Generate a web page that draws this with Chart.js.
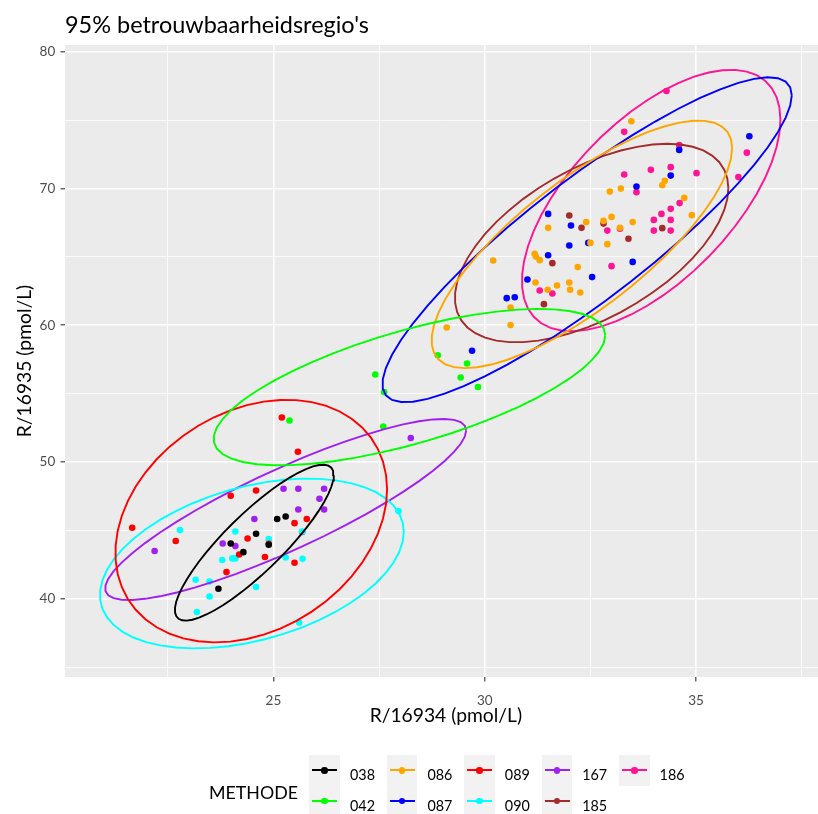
<!DOCTYPE html>
<html><head><meta charset="utf-8">
<script src="https://cdn.jsdelivr.net/npm/chart.js@4.4.1/dist/chart.umd.min.js"></script>
<style>
html,body{margin:0;padding:0;overflow:hidden;background:#fff;width:818px;height:814px;}
#wrap{position:relative;width:830px;height:814px;}
#c{position:absolute;left:0;top:0;}
.txt{position:absolute;white-space:nowrap;font-family:Lato, sans-serif;color:#000;}
.key{position:absolute;background:#F2F2F2;}
.kline{position:absolute;}
.kdot{position:absolute;border-radius:50%;}
</style></head>
<body><div id="wrap"><canvas id="c" width="830" height="814"></canvas><div id="title" class="txt"></div><div id="legend"></div></div>
<script>
const titleText = "95% betrouwbaarheidsregio's";
const xTitle = "R/16934 (pmol/L)";
const yTitle = "R/16935 (pmol/L)";
const legendTitle = "METHODE";
const methods = ['038','042','086','087','089','090','167','185','186'];
const colors = ['#000000','#00FF00','#FFA500','#0000FF','#FF0000','#00FFFF','#A020F0','#A52A2A','#FF1493'];
const xMajor = [25,30,35];
const xMinor = [22.5,27.5,32.5,37.5];
const yMajor = [40,50,60,70,80];
const yMinor = [35,45,55,65,75];

const x_038 = [25.09,25.29,24.59,23.99,24.29,24.89,23.70];
const y_038 = [45.83,46.02,44.75,44.04,43.41,43.95,40.73];
const x_042 = [25.38,27.60,27.62,27.41,28.89,29.58,29.43,29.84];
const y_042 = [53.03,52.60,55.11,56.40,57.81,57.20,56.18,55.48];
const x_086 = [33.47,32.96,33.22,34.20,34.26,34.72,34.90,31.50,32.40,32.81,33.00,33.20,33.50,32.50,32.90,31.18,31.21,31.30,30.20,32.20,31.20,31.71,32.00,31.49,32.02,32.26,30.61,30.61,29.10];
const y_086 = [74.92,69.77,69.99,70.24,70.56,69.31,68.05,67.12,67.54,67.63,67.92,67.12,67.54,66.02,65.93,65.22,65.02,64.76,64.73,64.25,63.12,62.90,63.12,62.59,62.59,62.39,61.29,60.01,59.83];
const x_087 = [29.70,30.52,30.71,31.01,31.50,31.50,32.04,32.00,32.45,32.54,33.50,33.59,34.40,34.60,36.26];
const y_087 = [58.13,61.98,62.05,63.34,65.12,68.14,67.29,65.83,66.02,63.52,64.63,70.14,70.94,72.82,73.82];
const x_089 = [25.20,25.58,21.66,22.69,23.99,24.59,25.50,25.79,24.39,24.89,24.19,24.80,25.50,23.89];
const y_089 = [53.25,50.75,45.19,44.22,47.53,47.92,45.53,45.83,44.41,44.02,43.24,43.05,42.63,41.95];
const x_090 = [22.79,24.10,24.89,25.68,23.79,24.03,24.10,25.29,25.69,23.16,23.49,24.59,23.49,23.19,25.61,27.96];
const y_090 = [45.02,44.92,44.36,44.92,42.83,42.95,42.95,43.02,42.92,41.39,41.26,40.86,40.17,39.03,38.27,46.41];
const x_167 = [25.24,25.59,26.20,26.09,25.59,26.20,24.55,25.68,23.80,24.10,22.19,28.25];
const y_167 = [48.04,48.04,48.04,47.31,46.53,46.53,45.83,44.88,44.04,43.85,43.49,51.75];
const x_185 = [32.00,32.81,32.29,33.40,34.20,31.60,31.40];
const y_185 = [68.02,67.43,67.12,66.32,67.10,64.54,61.54];
const x_186 = [34.30,33.30,34.60,36.20,36.00,33.93,34.40,35.01,33.30,33.59,34.61,34.40,34.18,34.00,34.40,34.00,34.40,32.90,33.20,33.00,31.30,31.60];
const y_186 = [77.13,74.14,73.17,72.62,70.83,71.36,71.56,71.12,71.02,69.73,68.93,68.51,68.14,67.70,67.70,66.92,66.92,66.92,67.05,64.32,62.54,62.32];

const xs = [x_038,x_042,x_086,x_087,x_089,x_090,x_167,x_185,x_186];
const ys = [y_038,y_042,y_086,y_087,y_089,y_090,y_167,y_185,y_186];

// normal-theory 95% ellipse (as ggplot2::stat_ellipse(type = "norm"))
function covNorm(px, py) {
  const n = px.length;
  const mx = px.reduce((a,b)=>a+b,0)/n, my = py.reduce((a,b)=>a+b,0)/n;
  let a=0,b=0,c=0;
  px.forEach((x,i)=>{const dx=x-mx, dy=py[i]-my; a+=dx*dx; b+=dx*dy; c+=dy*dy;});
  return {center:[mx,my], cov:[a/(n-1), b/(n-1), c/(n-1)]};
}
function ellipse(px, py, level = 0.95, segments = 51) {
  const {center, cov} = covNorm(px, py);
  const d = px.length - 1;
  const f = (d/2)*(Math.pow(1-level, -2/d) - 1);
  const radius = Math.sqrt(2*f);
  const r11 = Math.sqrt(cov[0]), r12 = cov[1]/r11, r22 = Math.sqrt(cov[2]-r12*r12);
  const out = [];
  for (let k = 0; k <= segments; k++) {
    const t = k*2*Math.PI/segments, co = Math.cos(t), si = Math.sin(t);
    out.push({x: center[0] + radius*co*r11, y: center[1] + radius*(co*r12 + si*r22)});
  }
  return out;
}

const mctx = document.createElement('canvas').getContext('2d');
function fit(text, width) { mctx.font = '100px Lato'; return 100*width/mctx.measureText(text).width; }
const titleSize = fit(titleText, 304);
const axisSize = fit(xTitle, 152.6);
const tickSize = fit('30', 15.7);
const legSize = fit('038', 25);
const legTitleSize = fit(legendTitle, 89);

const tEl = document.getElementById('title');
tEl.textContent = titleText;
Object.assign(tEl.style, {left:'65px', top:'8.5px', lineHeight:'30px', fontSize: titleSize+'px'});

const leg = document.getElementById('legend');
const lt = document.createElement('div'); lt.className='txt'; lt.textContent = legendTitle;
Object.assign(lt.style, {left:'209px', top:(791.7-12)+'px', lineHeight:'24px', fontSize: legTitleSize+'px'});
leg.appendChild(lt);
methods.forEach((m,i)=>{
  const col = Math.floor(i/2), row = i%2;
  const bx = 309.3 + 77.4*col, by = 755 + 30.7*row;
  const k = document.createElement('div'); k.className='key';
  Object.assign(k.style,{left:bx+'px',top:by+'px',width:'30.7px',height:'30.7px'});
  const ln = document.createElement('div'); ln.className='kline';
  Object.assign(ln.style,{left:'3px',top:(15.35-1.1)+'px',width:'25px',height:'2.2px',background:colors[i]});
  const dt = document.createElement('div'); dt.className='kdot';
  Object.assign(dt.style,{left:(15.35-3.3)+'px',top:(15.35-3.3)+'px',width:'6.6px',height:'6.6px',background:colors[i]});
  k.appendChild(ln); k.appendChild(dt); leg.appendChild(k);
  const lb = document.createElement('div'); lb.className='txt'; lb.textContent = m;
  Object.assign(lb.style,{left:(350+77.4*col)+'px', top:(775.3+30.7*row-10)+'px', lineHeight:'20px', fontSize: legSize+'px'});
  leg.appendChild(lb);
});

const pointSets = methods.map((m,i)=>({
  label: m, data: xs[i].map((x,j)=>({x, y: ys[i][j]})), showLine:false,
  pointRadius:3.3, pointHoverRadius:3.3, pointBorderWidth:0,
  pointBackgroundColor: colors[i], borderColor: colors[i], backgroundColor: colors[i], order: 1
}));
const ellipseSets = methods.map((m,i)=>({
  label: m + ' ellipse', data: ellipse(xs[i], ys[i]), showLine:true, pointRadius:0, pointHoverRadius:0,
  borderColor: colors[i], backgroundColor: colors[i], borderWidth:1.9, fill:false, tension:0, order: 0
}));

const bg = {id:'bg', beforeDraw(chart){ const {ctx, chartArea:a} = chart; ctx.save(); ctx.fillStyle='#EBEBEB'; ctx.fillRect(a.left,a.top,a.right-a.left,a.bottom-a.top); ctx.restore(); }};

const isMaj = (arr) => (c) => c.tick && arr.includes(c.tick.value);
new Chart(document.getElementById('c'), {
  type: 'scatter',
  data: { datasets: [...ellipseSets, ...pointSets] },
  plugins: [bg],
  options: {
    responsive:false, animation:false, events:[],
    layout:{padding:{top:45,left:0,right:1,bottom:77}},
    plugins:{legend:{display:false}, tooltip:{enabled:false}, title:{display:false}},
    scales:{
      x:{type:'linear', min:20.07, max:38.09,
        afterBuildTicks: s => { s.ticks = [...xMinor, ...xMajor].sort((a,b)=>a-b).map(v=>({value:v})); },
        afterFit: s => { s.height = 60; },
        ticks:{autoSkip:false, maxRotation:0, minRotation:0, padding:11, color:'#4D4D4D', font:{family:'Lato', size:tickSize},
          callback: v => xMajor.includes(v) ? String(v) : ''},
        grid:{color:'#FFFFFF', lineWidth: c => isMaj(xMajor)(c) ? 1.6 : 0.8, drawTicks:true, tickLength:4.5, tickWidth:1.1,
          tickColor: c => isMaj(xMajor)(c) ? '#333333' : 'rgba(0,0,0,0)'},
        border:{display:false},
        title:{display:true, text:xTitle, color:'#000', font:{family:'Lato', size:axisSize}, padding:{top:0,bottom:9.4}}
      },
      y:{type:'linear', min:34.28, max:80.49,
        afterBuildTicks: s => { s.ticks = [...yMinor, ...yMajor].sort((a,b)=>a-b).map(v=>({value:v})); },
        afterFit: s => { s.width = 65; },
        ticks:{autoSkip:false, padding:5.2, color:'#4D4D4D', font:{family:'Lato', size:tickSize},
          callback: v => yMajor.includes(v) ? String(v) : ''},
        grid:{color:'#FFFFFF', lineWidth: c => isMaj(yMajor)(c) ? 1.6 : 0.8, drawTicks:true, tickLength:4.5, tickWidth:1.1,
          tickColor: c => isMaj(yMajor)(c) ? '#333333' : 'rgba(0,0,0,0)'},
        border:{display:false},
        title:{display:true, text:yTitle, color:'#000', font:{family:'Lato', size:axisSize}, padding:{top:13.5,bottom:0}}
      }
    }
  }
});
</script></body></html>
